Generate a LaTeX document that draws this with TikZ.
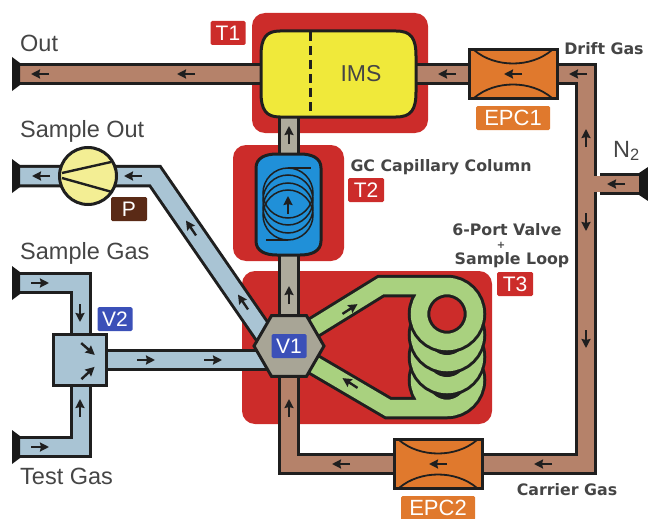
\documentclass[tikz,border=0pt]{standalone}
\usepackage{fontspec}
\setmainfont{Liberation Sans}
\newfontfamily\tinyfont{DejaVu Sans}
\usetikzlibrary{arrows.meta,shapes.geometric}
\definecolor{heatred}{HTML}{CC2C2A}
\definecolor{imsyellow}{HTML}{F0E93A}
\definecolor{pumpyellow}{HTML}{F3EE94}
\definecolor{gcblue}{HTML}{2090D8}
\definecolor{tagblue}{HTML}{3B50B8}
\definecolor{tagbrown}{HTML}{5A2A16}
\definecolor{epcorange}{HTML}{E0792D}
\definecolor{drybrown}{HTML}{B5826A}
\definecolor{samplegray}{HTML}{AEAB9C}
\definecolor{hexgray}{HTML}{A8A596}
\definecolor{gasblue}{HTML}{A9C4D4}
\definecolor{loopgreen}{HTML}{A9D17F}
\definecolor{labelgray}{HTML}{454545}
\tikzset{
	pipe/.style={draw=black!88, line width=3pt, double=#1, double distance=16.5pt, line join=miter},
	heater/.style={fill=heatred, rounded corners=13pt},
	tag/.style={fill=#1, text=white, rounded corners=1.5pt, inner sep=0pt, minimum height=24pt, font=\fontsize{21}{24}\selectfont},
	gaslabel/.style={text=labelgray, anchor=west, inner sep=0pt, font=\fontsize{23.5}{26}\selectfont},
	tinylabel/.style={text=labelgray, inner sep=0pt, font=\tinyfont\bfseries\fontsize{15.8}{18}\selectfont},
	flowarrow/.style={draw=black!88, line width=2.4pt, -{Stealth[length=9pt,width=9pt,inset=1pt]}},
	device/.style={draw=black!88, line width=3pt},
	flange/.style={fill=black!90}
}
\begin{document}
\begin{tikzpicture}[x=1pt,y=-1pt]
	\useasboundingbox (0,0) rectangle (648,519);
	% heated zones
	\fill[heater] (252,13) rectangle (428,133);
	\fill[heater] (233,145) rectangle (344,261);
	\fill[heater] (242,271) rectangle (492,424);
	% pipe junctions
	\coordinate (imsC) at (340,74);
	\coordinate (gcC) at (289,204);
	\coordinate (valveC) at (289,346);
	\coordinate (mixC) at (80,360);
	\coordinate (pumpC) at (88,176);
	\coordinate (epcOneC) at (513,74);
	\coordinate (epcTwoC) at (438,464);
	\coordinate (outEnd) at (15,74);
	\coordinate (sampleEnd) at (15,176);
	\coordinate (gasEnd) at (15,283);
	\coordinate (testEnd) at (15,447);
	\coordinate (nitrogenEnd) at (642,184);
	% pipes
	\draw[pipe=drybrown] (outEnd) -- (imsC);
	\draw[pipe=drybrown] (imsC) -- (epcOneC) -- (586,74) -- (586,464) -- (289,464) -- (valveC);
	\draw[pipe=drybrown] (nitrogenEnd) -- (600,184);
	\draw[line width=16.5pt, drybrown] (605,184) -- (580,184);
	\draw[pipe=samplegray] (valveC) -- (289,100);
	\draw[pipe=gasblue] (sampleEnd) -- (pumpC) -- (155,176) -- (268,340);
	\draw[pipe=gasblue] (gasEnd) -- (81,283) -- (81,447) -- (testEnd);
	\draw[pipe=gasblue] (mixC) -- (mixC -| valveC);
	% sample loop
	\draw[pipe=loopgreen] (valveC) ++(24,18) -- (388,408) -- (447,408) arc[start angle=90, end angle=-270, radius=28];
	\fill[black!88] (447,379) circle (20);
	\foreach \y in {357,335} {
		\draw[pipe=loopgreen] (447,\y) circle (28);
		\fill[black!88] (447,\y) circle (20);
	}
	\fill[heatred] (447,314) circle (20);
	\draw[pipe=loopgreen] (valveC) ++(24,-18) -- (381,286) -- (447,286) arc[start angle=-90, end angle=270, radius=28];
	% end flanges
	\foreach \y in {74,176,283,447}
		\fill[flange] (12,\y-17) -- (20,\y-11) -- (20,\y+11) -- (12,\y+17) -- cycle;
	\fill[flange] (648,167) -- (639,173) -- (639,195) -- (648,201) -- cycle;
	% ims
	\draw[device, fill=imsyellow] (261,56) .. controls (261,38) and (266,31) .. (280,31) -- (396,31) .. controls (411,31) and (416,38) .. (416,56) -- (416,92) .. controls (416,110) and (411,117) .. (396,117) -- (280,117) .. controls (266,117) and (261,110) .. (261,92) -- cycle;
	\draw[line width=3pt, dash pattern=on 9pt off 5pt, black!88] (310,32) -- (310,116);
	\node[gaslabel, anchor=center, font=\fontsize{23}{26}\selectfont] (ims) at (361,74) {IMS};
	% gc column
	\draw[device, fill=gcblue] (256,168) .. controls (256,158) and (265,154) .. (277,154) -- (300,154) .. controls (312,154) and (321,158) .. (321,168) -- (321,241) .. controls (321,251) and (312,255) .. (300,255) -- (277,255) .. controls (265,255) and (256,251) .. (256,241) -- cycle;
	\foreach \y in {193,200,208,215}
		\draw[line width=1.5pt, black!88] (288,\y) circle (25);
	\draw[line width=1.5pt, black!88] (288,168) -- (311,168);
	\draw[line width=1.5pt, black!88] (266,240) -- (288,240);
	% valves and pump
	\node[device, fill=hexgray, regular polygon, regular polygon sides=6, minimum size=70pt, inner sep=0pt] (hexvalve) at (valveC) {};
	\node[device, fill=gasblue, minimum width=53pt, minimum height=51pt, inner sep=0pt] (mixvalve) at (mixC) {};
	\node[device, fill=pumpyellow, circle, minimum size=57pt, inner sep=0pt] (pump) at (pumpC) {};
	\draw[line width=2.4pt, black!88] (62,173) -- (111,162);
	\draw[line width=2.4pt, black!88] (62,178) -- (112,192);
	% flow controllers
	\foreach \cx/\cy/\n in {513/74/1,438/464/2} {
		\node[device, fill=epcorange, minimum width=88pt, minimum height=49pt, inner sep=0pt] (epc\n) at (\cx,\cy) {};
		\draw[line width=1.8pt, black!88] (\cx-39,\cy-24) .. controls (\cx-18,\cy-6) and (\cx+18,\cy-6) .. (\cx+39,\cy-24);
		\draw[line width=1.8pt, black!88] (\cx-39,\cy+24) .. controls (\cx-18,\cy+6) and (\cx+18,\cy+6) .. (\cx+39,\cy+24);
	}
	% flow directions
	\foreach \x/\y/\a in {40/74/180,186/74/180,447/74/180,513/74/180,578/74/180,586/138/90,616/184/180,586/222/-90,586/339/-90,543/464/180,438/464/180,341/464/180,289/408/90,289/295/90,289/135/90,288/205/90,41/176/180,133/176/180,191/228/124,243/302/124,40/283/0,80/313/-90,88/349/-41,88/373/43,80/408/90,40/447/0,146/360/0,213/360/0,350/309/33,350/383/147}
		\draw[flowarrow, shift={(\x,\y)}, rotate=\a] (-9,0) -- (9,0);
	% tags
	\node[tag=heatred, minimum width=35pt] (T1) at (228,33) {T1};
	\node[tag=heatred, minimum width=36pt] (T2) at (366,190) {T2};
	\node[tag=heatred, minimum width=36pt] (T3) at (515,284) {T3};
	\node[tag=tagblue, minimum width=35pt] (V1) at (289,346) {V1};
	\node[tag=tagblue, minimum width=35pt] (V2) at (115,319) {V2};
	\node[tag=tagbrown, minimum width=36pt] (P) at (129,209) {P};
	\node[tag=epcorange, minimum width=74pt, font=\fontsize{22}{24}\selectfont] (EPC1) at (513,118) {EPC1};
	\node[tag=epcorange, minimum width=74pt, font=\fontsize{22}{24}\selectfont] (EPC2) at (438,508) {EPC2};
	% texts
	\node[gaslabel] (lOut) at (20,43) {Out};
	\node[gaslabel] (lSampleOut) at (20,131) {Sample Out};
	\node[gaslabel] (lSampleGas) at (20,253) {Sample Gas};
	\node[gaslabel] (lTestGas) at (20,476) {Test Gas};
	\node[gaslabel] (lNitrogen) at (613,151) {N\textsubscript{2}};
	\node[tinylabel] (lDrift) at (604,49) {Drift Gas};
	\node[tinylabel] (lCarrier) at (567,490) {Carrier Gas};
	\node[tinylabel] (lColumn) at (441,167) {GC Capillary Column};
	\node[tinylabel] (lPort) at (507,230) {6-Port Valve};
	\node[tinylabel, font=\tinyfont\bfseries\fontsize{10}{10}\selectfont] (lPlus) at (501,245) {+};
	\node[tinylabel] (lLoop) at (512,260) {Sample Loop};
\end{tikzpicture}
\end{document}
